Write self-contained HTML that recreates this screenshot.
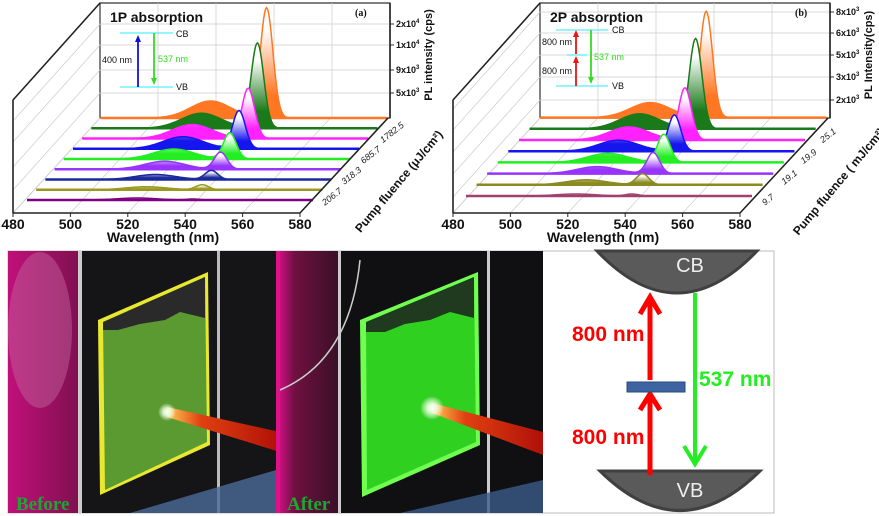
<!DOCTYPE html>
<html><head><meta charset="utf-8"><style>
html,body{margin:0;padding:0;background:#fff;}
svg{display:block;font-family:"Liberation Sans",sans-serif;}
</style></head><body>
<svg id="s" width="879" height="516" viewBox="0 0 879 516" xmlns="http://www.w3.org/2000/svg">
<defs>
<linearGradient id="beam" x1="0" y1="0" x2="1" y2="0"><stop offset="0" stop-color="#ffcc55"/><stop offset="0.3" stop-color="#e04010"/><stop offset="1" stop-color="#b01008"/></linearGradient>
<radialGradient id="spot"><stop offset="0" stop-color="#fff"/><stop offset="0.4" stop-color="#eaffdd" stop-opacity="0.9"/><stop offset="1" stop-color="#fff" stop-opacity="0"/></radialGradient>
<linearGradient id="mag" x1="0" y1="0" x2="1" y2="0"><stop offset="0" stop-color="#c0107a"/><stop offset="1" stop-color="#801050"/></linearGradient>
<linearGradient id="mag2" x1="0" y1="0" x2="1" y2="0"><stop offset="0" stop-color="#e01090"/><stop offset="0.3" stop-color="#701040"/><stop offset="1" stop-color="#3a1028"/></linearGradient>
</defs>
<g id="ga"></g><g id="gb"></g>

<rect x="8" y="251" width="766" height="262" fill="#fff" stroke="#bbb" stroke-width="1"/>
<rect x="8" y="251" width="268" height="262" fill="#151517"/>
<rect x="8" y="251" width="70" height="262" fill="url(#mag)"/>
<ellipse cx="40" cy="330" rx="32" ry="78" fill="#c0609a" opacity="0.5"/>
<rect x="78" y="251" width="4" height="262" fill="#ccc"/>
<rect x="217" y="251" width="3" height="262" fill="#bbb"/>
<path d="M130 513 L276 470 L276 513 Z" fill="#4a6a9a" opacity="0.8"/>
<polygon points="98,320 208,272 210,445 100,495" fill="#e8e830"/>
<polygon points="103,322 205,277 207,442 105,490" fill="#5a9a30"/>
<polygon points="103,322 205,277 205,318 180,312 165,320 140,324 118,330 103,330" fill="#2a2a2a"/>
<polygon points="167,407 280,432 280,452 167,417" fill="url(#beam)"/>
<circle cx="167" cy="412" r="9" fill="url(#spot)"/>
<text x="16" y="510" font-family="Liberation Serif,serif" font-weight="bold" font-size="19" fill="#1aa832">Before</text>
<rect x="276" y="251" width="267" height="262" fill="#101012"/>
<rect x="276" y="251" width="62" height="262" fill="url(#mag2)"/>
<rect x="276" y="251" width="4" height="262" fill="#e0108a"/>
<path d="M280 390 Q350 360 360 260" stroke="#ccc" stroke-width="1.5" fill="none"/>
<rect x="338" y="251" width="3" height="262" fill="#ccc"/>
<rect x="487" y="251" width="3" height="262" fill="#ccc"/>
<path d="M400 513 L543 480 L543 513 Z" fill="#3a5a8a" opacity="0.8"/>
<polygon points="360,320 478,272 480,445 362,497" fill="#70ff50"/>
<polygon points="366,322 474,277 476,442 367,490" fill="#30d020"/>
<polygon points="366,322 474,277 474,318 450,312 430,320 405,324 385,332 366,332" fill="#1f3a1f"/>
<polygon points="432,403 543,432 543,455 432,413" fill="url(#beam)"/>
<circle cx="432" cy="408" r="12" fill="url(#spot)"/>
<text x="287" y="510" font-family="Liberation Serif,serif" font-weight="bold" font-size="19" fill="#1aa832">After</text>
<path d="M597 251 Q677 335 757 251 Z" fill="#5a5a5a" stroke="#404040" stroke-width="3"/>
<text x="690" y="272" text-anchor="middle" font-size="20" fill="#eee">CB</text>
<path d="M600 471 Q680 550 760 471 Z" fill="#5a5a5a" stroke="#404040" stroke-width="3"/>
<text x="690" y="497" text-anchor="middle" font-size="20" fill="#eee">VB</text>
<line x1="650" y1="475" x2="650" y2="398" stroke="#ff0000" stroke-width="5"/>
<polyline points="640,410 650,394 660,410" fill="none" stroke="#ff0000" stroke-width="5"/>
<line x1="650" y1="380" x2="650" y2="300" stroke="#ff0000" stroke-width="5"/>
<polyline points="640,314 650,297 660,314" fill="none" stroke="#ff0000" stroke-width="5"/>
<rect x="627" y="382" width="58" height="10" fill="#3d64a0" stroke="#2a4a7a"/>
<line x1="695" y1="293" x2="695" y2="463" stroke="#22ee22" stroke-width="4"/>
<polyline points="684,446 695,464 706,446" fill="none" stroke="#22ee22" stroke-width="4"/>
<text x="572" y="341" font-size="21" font-weight="bold" fill="#ff0000">800 nm</text>
<text x="572" y="444" font-size="21" font-weight="bold" fill="#ff0000">800 nm</text>
<text x="699" y="386" font-size="21" font-weight="bold" fill="#22ee22">537 nm</text>
</svg>
<script>
var NS="http://www.w3.org/2000/svg";
function el(p,t,a,txt){var e=document.createElementNS(NS,t);for(var k in a)e.setAttribute(k,a[k]);if(txt!==undefined)e.textContent=txt;p.appendChild(e);return e;}
function panel(g,ox,cfg){
 var L=13+ox,R=300+ox,B=213,BL=100+ox,BR=390+ox,BT=3,BB=118;
 var gc="#ccc";
 el(g,"polygon",{points:[BL,BT,BR,BT,BR,BB,BL,BB].join(","),fill:"#fff",stroke:"#333","stroke-width":1.2});
 el(g,"polyline",{points:[BL,BB,L,B].join(","),fill:"none",stroke:"#ddd"});
 for(var k=0;k<5;k++){var xb=BL+57.6*(k+1)*(BR-BL)/288;if(k<4)el(g,"line",{x1:xb,y1:BT,x2:xb,y2:BB,stroke:gc,"stroke-width":0.7});
  el(g,"line",{x1:L+57.4*k+0.001,y1:B,x2:BL+57.6*k,y2:BB,stroke:gc,"stroke-width":0.7});}
 cfg.yt.forEach(function(t){el(g,"line",{x1:BL,y1:t[1],x2:BR,y2:t[1],stroke:gc,"stroke-width":0.7});
   el(g,"line",{x1:L,y1:t[1]+97,x2:BL,y2:t[1],stroke:gc,"stroke-width":0.7});
   el(g,"line",{x1:BR,y1:t[1],x2:BR+4,y2:t[1],stroke:"#333"});
   var tx=el(g,"text",{x:BR+6,y:t[1]+3,"font-size":9,"font-weight":"bold",fill:"#111"});tx.textContent=t[0];
   el(tx,"tspan",{dy:-4,"font-size":6},t[2]);});
 el(g,"polyline",{points:[L,B,L,100,BL,BT].join(","),fill:"none",stroke:"#222","stroke-width":1.6});
 var n=cfg.s.length;
 for(var i=n-1;i>=0;i--){var s=cfg.s[i];
  var id="g"+ox+"_"+i;
  var lg=el(g,"linearGradient",{id:id,x1:0,y1:0,x2:0,y2:1});
  el(lg,"stop",{offset:0,"stop-color":"#fff"});el(lg,"stop",{offset:0.2,"stop-color":"#fff"});el(lg,"stop",{offset:0.8,"stop-color":s.c});el(lg,"stop",{offset:1,"stop-color":s.c});
  var xs=s.x+ox,yb=s.y,d="M"+xs+" "+yb;
  for(var x=0;x<=286;x+=1){var v=s.h*Math.exp(-Math.pow((x-cfg.po)/cfg.sw,2)/2)+s.b*Math.exp(-Math.pow((x-cfg.po+56)/20,2)/2);
   d+=" L"+(xs+x)+" "+(yb-v).toFixed(2);}
  el(g,"path",{d:d+" Z",fill:"url(#"+id+")",stroke:"none"});
  el(g,"path",{d:d,fill:"none",stroke:s.c,"stroke-width":1.5});
  el(g,"line",{x1:xs,y1:yb,x2:xs+286,y2:yb,stroke:s.c,"stroke-width":2.5});
 }
 el(g,"polyline",{points:[L,B,R,B,BR-2,BB].join(","),fill:"none",stroke:"#222","stroke-width":1.6});
 el(g,"line",{x1:BR,y1:BT,x2:BR,y2:BB,stroke:"#222","stroke-width":1.6});
 ["480","500","520","540","560","580"].forEach(function(t,k){el(g,"line",{x1:L+57.4*k,y1:B,x2:L+57.4*k,y2:B+4,stroke:"#222"});
  el(g,"text",{x:L+57.4*k,y:B+16,"text-anchor":"middle","font-size":14,"font-weight":"bold",fill:"#111"},t);});
 el(g,"text",{x:L+150,y:B+29,"text-anchor":"middle","font-size":14,"font-weight":"bold",fill:"#111"},"Wavelength (nm)");
 cfg.fl.forEach(function(t,k){var x=BR-2-(BR-2-R)*(0.16+0.22*k),y=BB+(B-BB)*(0.16+0.22*k);
  el(g,"text",{x:x+9,y:y+10,"font-size":9,"font-style":"italic",fill:"#222",transform:"rotate(-38 "+(x+9)+" "+(y+10)+")"},t);});
 var fx=ox+402,fy=184;
 el(g,"text",{x:fx,y:fy,"text-anchor":"middle","font-size":12,"font-weight":"bold",fill:"#111",transform:"rotate(-50 "+fx+" "+fy+")"},cfg.fz);
 var px=ox+432,py=cfg.pyc;
 el(g,"text",{x:px,y:py,"text-anchor":"middle","font-size":11,"font-weight":"bold",fill:"#111",transform:"rotate(-90 "+px+" "+py+")"},cfg.pl);
 el(g,"text",{x:ox+110,y:22,"font-size":14,"font-weight":"bold",fill:"#111"},cfg.title);
 el(g,"text",{x:ox+355,y:16,"font-size":10,"font-weight":"bold","font-family":"Liberation Serif,serif",fill:"#111"},cfg.lab);
 cfg.inset(g,ox);
}
function arrow(g,x,y1,y2,c){el(g,"line",{x1:x,y1:y1,x2:x,y2:y2+(y2<y1?4:-4),stroke:c,"stroke-width":1.8});
 var d=y2<y1?1:-1;el(g,"polygon",{points:[x-3,y2+7*d,x+3,y2+7*d,x,y2].join(","),fill:c});}
var A={title:"1P absorption",lab:"(a)",po:166,sw:6.3,pl:"PL intensity (cps)",pyc:55,fz:"Pump fluence (\u03bcJ/cm\u00b2)",
 yt:[["2x10",24,"4"],["1x10",45,"4"],["9x10",70,"3"],["5x10",93,"3"]],fl:["1782.5","685.7","318.3","206.7"],
 s:[["#800080",1,2],["#9a9a20",5,3],["#1a2a9a",9,5],["#9933ff",17,8],["#22ee22",26,10],["#1515ee",38,12],["#ff22ff",50,14],["#1a7a1a",85,15],["#ff7722",110,17]].map(function(a,i){return{c:a[0],h:a[1],b:a[2],x:27+9.2*i,y:200-10.25*i};}),
 inset:function(g,ox){el(g,"line",{x1:ox+120,y1:33,x2:ox+173,y2:33,stroke:"#55eeff","stroke-width":1.3});el(g,"line",{x1:ox+120,y1:87,x2:ox+173,y2:87,stroke:"#55eeff","stroke-width":1.3});
  arrow(g,ox+138,87,35,"#1010dd");arrow(g,ox+154,33,85,"#33dd22");
  el(g,"text",{x:ox+102,y:63,"font-size":9,fill:"#111"},"400 nm");el(g,"text",{x:ox+158,y:62,"font-size":9,fill:"#33dd22"},"537 nm");
  el(g,"text",{x:ox+176,y:37,"font-size":9,fill:"#111"},"CB");el(g,"text",{x:ox+176,y:90,"font-size":9,fill:"#111"},"VB");}};
var B={title:"2P absorption",lab:"(b)",po:166,sw:6.3,pl:"PL Intensity(cps)",pyc:55,fz:"Pump fluence ( mJ/cm\u00b2)",
 yt:[["8x10",12,"3"],["6x10",33,"3"],["5x10",55,"3"],["3x10",77,"3"],["2x10",100,"3"]],fl:["25.1","19.9","19.1","9.7"],
 s:[["#a04070",2,2],["#8a8a20",11,5],["#9933ff",21,7],["#22ee22",28,9],["#1515ee",36,11],["#ff22ff",52,13],["#1a7a1a",90,15],["#ff7722",106,15]].map(function(a,i){return{c:a[0],h:a[1],b:a[2],x:26+10.6*i,y:196-11.2*i};}),
 inset:function(g,ox){el(g,"line",{x1:ox+116,y1:30,x2:ox+168,y2:30,stroke:"#55eeff","stroke-width":1.3});el(g,"line",{x1:ox+116,y1:86,x2:ox+168,y2:86,stroke:"#55eeff","stroke-width":1.3});
  el(g,"line",{x1:ox+127,y1:55,x2:ox+147,y2:55,stroke:"#55eeff","stroke-width":1.3});
  arrow(g,ox+136,86,56,"#ee1111");arrow(g,ox+136,54,30,"#ee1111");arrow(g,ox+151,30,84,"#33dd22");
  el(g,"text",{x:ox+102,y:45,"font-size":9,fill:"#111"},"800 nm");el(g,"text",{x:ox+102,y:74,"font-size":9,fill:"#111"},"800 nm");
  el(g,"text",{x:ox+154,y:60,"font-size":9,fill:"#33dd22"},"537 nm");
  el(g,"text",{x:ox+172,y:33,"font-size":9,fill:"#111"},"CB");el(g,"text",{x:ox+172,y:89,"font-size":9,fill:"#111"},"VB");}};
panel(document.getElementById("ga"),0,A);
panel(document.getElementById("gb"),440,B);
</script>
</body></html>
